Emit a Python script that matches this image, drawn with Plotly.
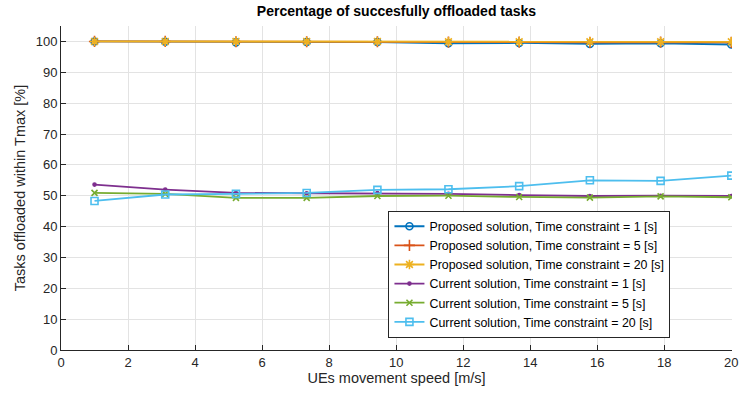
import plotly.graph_objects as go

# UE movement speeds [m/s]
speed = [1.0, 3.11, 5.22, 7.33, 9.44, 11.56, 13.67, 15.78, 17.89, 20.0]

# Percentage of tasks offloaded within Tmax
proposed_t1 = [100.0, 99.9, 99.7, 99.8, 99.8, 99.4, 99.5, 99.2, 99.4, 99.0]
proposed_t5 = [100.0, 100.0, 99.9, 99.9, 99.9, 99.8, 99.8, 99.7, 99.8, 99.7]
proposed_t20 = [100.0, 100.0, 100.0, 100.0, 100.0, 99.9, 99.9, 99.9, 99.9, 99.9]
current_t1 = [53.6, 52.0, 50.9, 50.8, 50.9, 50.6, 50.2, 49.9, 50.0, 49.9]
current_t5 = [50.9, 50.6, 49.3, 49.3, 49.9, 50.0, 49.6, 49.4, 49.8, 49.5]
current_t20 = [48.3, 50.4, 50.6, 50.9, 51.9, 52.1, 53.1, 55.0, 54.8, 56.5]

series = [
    ("Proposed solution, Time constraint = 1 [s]", proposed_t1, "#0072BD", "circle-open", 7),
    ("Proposed solution, Time constraint = 5 [s]", proposed_t5, "#D95319", "cross-thin-open", 8),
    ("Proposed solution, Time constraint = 20 [s]", proposed_t20, "#EDB120", "asterisk-open", 8),
    ("Current solution, Time constraint = 1 [s]", current_t1, "#7E2F8E", "circle", 3),
    ("Current solution, Time constraint = 5 [s]", current_t5, "#77AC30", "x-thin-open", 6),
    ("Current solution, Time constraint = 20 [s]", current_t20, "#4DBEEE", "square-open", 7),
]

fig = go.Figure()
for name, vals, color, symbol, size in series:
    fig.add_trace(go.Scatter(
        x=speed, y=vals, name=name, mode="lines+markers",
        line=dict(color=color, width=1.8),
        marker=dict(symbol=symbol, size=size, color=color,
                    line=dict(color=color, width=1.6)),
    ))

family = "Liberation Sans, Arial, sans-serif"
ink = "#262626"

fig.update_layout(
    width=739, height=395,
    margin=dict(l=61, r=7, t=26, b=45),
    paper_bgcolor="white", plot_bgcolor="white",
    font=dict(family=family, size=13, color=ink),
    title=dict(text="<b>Percentage of succesfully offloaded tasks</b>",
               x=0.5, xref="paper", xanchor="center",
               y=0.972, yanchor="middle",
               font=dict(family=family, size=14, color="black")),
    xaxis=dict(
        range=[0, 20.02], tick0=0, dtick=2,
        showgrid=True, gridcolor="#e3e3e3", gridwidth=1,
        showline=True, linecolor=ink, linewidth=1, mirror=False,
        ticks="inside", ticklen=5, tickcolor=ink,
        zeroline=False, automargin=False, ticklabeloverflow="allow",
        tickfont=dict(size=13, color=ink),
        title=dict(text="UEs movement speed [m/s]", standoff=4,
                   font=dict(size=14.5, color=ink)),
    ),
    yaxis=dict(
        range=[0, 105], tick0=0, dtick=10,
        showgrid=True, gridcolor="#e3e3e3", gridwidth=1,
        showline=True, linecolor=ink, linewidth=1, mirror=False,
        ticks="inside", ticklen=5, tickcolor=ink,
        zeroline=False, automargin=False, ticklabeloverflow="allow",
        tickfont=dict(size=13, color=ink),
        title=dict(text="Tasks offloaded within Tmax [%]", standoff=6,
                   font=dict(size=14.5, color=ink)),
    ),
    legend=dict(
        x=0.488, y=0.43, xanchor="left", yanchor="top",
        bgcolor="white", bordercolor=ink, borderwidth=1,
        font=dict(family=family, size=12.4, color="black"),
        tracegroupgap=0, itemwidth=30, entrywidth=268,
    ),
    showlegend=True,
)

fig.write_html("out.html")
